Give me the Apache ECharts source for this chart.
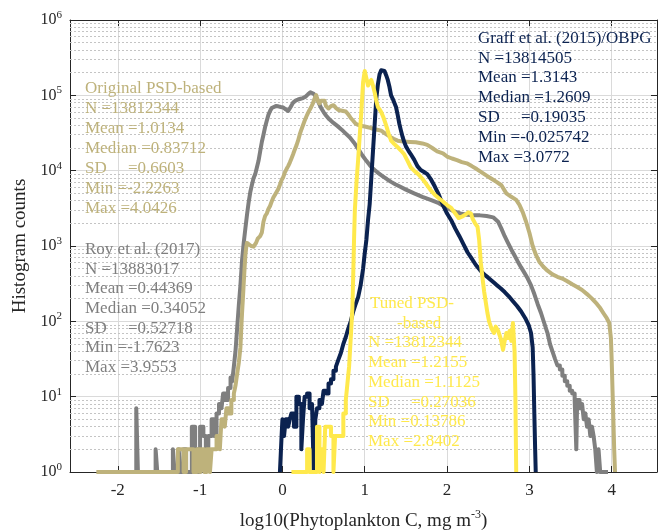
<!DOCTYPE html>
<html><head><meta charset="utf-8">
<script src="https://cdn.jsdelivr.net/npm/echarts@6/dist/echarts.min.js"></script>
<style>html,body{margin:0;padding:0;background:#fff}#c{width:666px;height:532px}</style>
</head><body><div id="c"></div>
<script>
// ---- Data (bin left edges in log10 C, histogram counts) ----
var royX = [-1.80,-1.775,-1.755,-1.54,-1.52,-1.33,-1.31,-1.26,-1.24,-1.20,-1.17,-1.10,-1.06,-1.03,-1.00,-0.96,-0.93,-0.90,-0.86,-0.83,-0.80,-0.77,-0.74,-0.72,-0.69,-0.66,-0.63,-0.61,-0.59,-0.57,-0.55,-0.53,-0.51,-0.49,-0.47,-0.45,-0.43,-0.41,-0.39,-0.37,-0.35,-0.33,-0.31,-0.29,-0.27,-0.25,-0.23,-0.21,-0.19,-0.17,-0.15,-0.13,-0.11,-0.08,-0.05,-0.02,0.01,0.04,0.07,0.10,0.13,0.16,0.19,0.22,0.25,0.28,0.31,0.34,0.36,0.38,0.40,0.42,0.44,0.47,0.50,0.53,0.57,0.62,0.67,0.72,0.77,0.82,0.87,0.92,0.97,1.02,1.07,1.12,1.17,1.22,1.27,1.32,1.37,1.42,1.50,1.60,1.70,1.80,1.90,2.00,2.08,2.16,2.24,2.32,2.40,2.48,2.56,2.62,2.66,2.70,2.74,2.78,2.82,2.86,2.90,2.94,2.98,3.02,3.06,3.10,3.14,3.18,3.22,3.25,3.28,3.31,3.34,3.37,3.40,3.43,3.46,3.49,3.52,3.55,3.57,3.58,3.61,3.64,3.66,3.68,3.70,3.72,3.74,3.76,3.78,3.80,3.82,3.84,3.86,3.90,3.955];
var royY = [1,7,1,2,1,2,1,2,1,2,1,4,2,1,4,3,2,3,5,3,6,8,7,11,9,13,18,16,25,40,80,160,300,650,1100,1700,2600,3800,5200,6500,8000,9000,11000,13500,18000,24000,30000,38000,46000,55000,62000,68000,71000,72000,71500,70000,69000,65000,62000,70000,80000,85000,88000,90000,92000,96000,103000,110000,108000,105000,100000,90000,80000,68000,60000,54000,48000,43000,39000,35000,31000,27500,23500,19500,16000,13500,11500,10200,9200,8400,7700,7100,6600,6200,5600,5000,4500,4100,3700,3200,2900,2700,2600,2550,2550,2500,2400,2100,1700,1350,1100,900,750,620,520,440,370,300,230,170,130,95,70,50,40,32,26,23,19,16,14,12,11,9,2,9,7,8,5,6,4,5,3,4,3,2,1,2,1,1,1];

var origX = [-2.26,-1.27,-1.20,-1.17,-1.08,-1.04,-1.00,-0.98,-0.95,-0.92,-0.88,-0.86,-0.80,-0.76,-0.74,-0.70,-0.68,-0.65,-0.62,-0.59,-0.57,-0.55,-0.53,-0.51,-0.50,-0.49,-0.48,-0.47,-0.46,-0.45,-0.44,-0.43,-0.41,-0.38,-0.35,-0.32,-0.30,-0.27,-0.25,-0.23,-0.21,-0.19,-0.17,-0.15,-0.13,-0.11,-0.09,-0.07,-0.05,-0.03,-0.01,0.01,0.03,0.05,0.07,0.09,0.11,0.13,0.15,0.17,0.19,0.21,0.23,0.25,0.27,0.29,0.31,0.33,0.35,0.37,0.39,0.41,0.43,0.45,0.47,0.49,0.51,0.53,0.56,0.59,0.62,0.65,0.68,0.71,0.74,0.77,0.80,0.83,0.86,0.89,0.92,0.95,1.00,1.05,1.10,1.15,1.20,1.25,1.30,1.35,1.40,1.47,1.55,1.62,1.70,1.76,1.82,1.88,1.95,2.00,2.06,2.12,2.18,2.24,2.30,2.36,2.42,2.48,2.54,2.60,2.66,2.72,2.78,2.84,2.88,2.92,2.96,3.00,3.04,3.08,3.12,3.17,3.22,3.28,3.34,3.40,3.46,3.52,3.58,3.64,3.70,3.76,3.82,3.86,3.90,3.94,3.97,3.99,4.00,4.01,4.02,4.03,4.04,4.045];
var origY = [1,2,1,2,1,2,1,2,1,2,1,2,3,2,5,4,7,6,9,11,14,20,28,45,80,130,200,320,500,750,950,1100,1050,1000,980,1100,1250,1350,1500,2100,2500,2700,3100,3400,3900,4400,4800,5100,5700,6500,7500,8200,9500,10500,11500,12800,14500,16500,19000,21500,25000,30000,35000,40000,46000,52000,58000,64000,70000,78000,90000,101000,85000,78000,85000,90000,85000,72000,67000,72000,74000,68000,64000,63000,62000,61000,56000,50000,46000,42000,40500,39500,38500,37500,36000,35000,34000,31000,28500,26500,25000,24300,24000,23800,23000,22000,20000,18000,17000,15400,14500,13800,13000,12500,11500,10500,9500,8600,7800,7100,6400,5000,4500,4100,3500,2800,2100,1500,1000,760,620,530,470,420,390,370,340,310,285,260,230,200,170,150,128,110,95,60,30,12,5,2,1,1];

var graffX = [-0.03,-0.01,0.0,0.02,0.04,0.07,0.09,0.11,0.14,0.17,0.20,0.23,0.25,0.27,0.30,0.33,0.36,0.38,0.40,0.42,0.45,0.48,0.50,0.53,0.56,0.59,0.62,0.65,0.68,0.71,0.74,0.77,0.80,0.83,0.86,0.89,0.92,0.95,0.98,1.00,1.02,1.04,1.06,1.08,1.10,1.12,1.14,1.16,1.18,1.20,1.22,1.24,1.26,1.28,1.30,1.32,1.34,1.36,1.38,1.40,1.42,1.44,1.46,1.48,1.50,1.53,1.56,1.60,1.64,1.68,1.72,1.76,1.80,1.85,1.90,1.95,2.00,2.05,2.10,2.15,2.20,2.25,2.30,2.35,2.40,2.45,2.50,2.55,2.60,2.65,2.70,2.75,2.80,2.85,2.90,2.95,2.99,3.02,3.04,3.05,3.06,3.07,3.077];
var graffY = [1,3,5,3,5,4,5,6,4,10,8,2,5,10,11,7,8,1,5,7,9,8,12,11,15,17,22,25,31,38,50,62,80,100,135,170,210,300,500,800,1200,2200,3600,8000,18000,40000,90000,140000,190000,215000,222000,210000,185000,160000,130000,100000,90000,85000,70000,55000,42000,34000,28000,24000,21000,18500,16500,14000,11500,10200,9600,9000,7800,6200,4800,3500,2700,2200,1700,1350,1050,820,680,560,480,420,380,340,305,275,245,215,185,160,135,110,90,70,45,20,6,2,1];

var tunedX = [0.11,0.20,0.30,0.33,0.36,0.42,0.45,0.47,0.50,0.52,0.56,0.59,0.62,0.64,0.70,0.74,0.77,0.79,0.81,0.83,0.85,0.86,0.87,0.88,0.90,0.92,0.94,0.96,0.98,1.00,1.02,1.04,1.06,1.08,1.10,1.12,1.14,1.16,1.18,1.20,1.23,1.26,1.29,1.32,1.36,1.40,1.44,1.48,1.52,1.56,1.60,1.65,1.70,1.75,1.80,1.85,1.90,1.95,2.00,2.05,2.10,2.14,2.18,2.22,2.26,2.29,2.31,2.34,2.37,2.39,2.41,2.43,2.45,2.47,2.49,2.51,2.54,2.57,2.59,2.62,2.65,2.68,2.70,2.72,2.74,2.76,2.78,2.80,2.82,2.83,2.835,2.84];
var tunedY = [1,1,2,1,1,4,1,2,1,4,4,3,1,3,3,6,9,15,25,60,150,400,1200,3000,7000,14000,30000,63000,150000,210000,218000,135000,150000,160000,135000,110000,85000,70000,65000,60000,50000,40000,31000,25000,22500,20500,18500,16500,13500,11000,10000,9000,7800,6600,5500,4800,4300,3900,3500,3200,2700,2350,2450,2600,2800,2700,2300,2000,1800,1200,600,380,250,180,130,100,80,70,85,75,60,42,55,70,60,75,55,95,40,10,3,1];

var xTicks = [-2,-1,0,1,2,3,4];

var colRoy = '#7f7f7f', colOrig = '#beb27b', colGraff = '#0b2250', colTuned = '#ffe94c';
var FONT = '"Liberation Serif", "DejaVu Serif", serif';

// Histogram drawing: low-count bins drawn as stairs (bars), the dense part as a continuous polyline
function histPoints(xs, ys, thr){
  var out = [];
  for (var i = 0; i < xs.length; i++){
    out.push([xs[i], ys[i]]);
    if (i + 1 < xs.length && ys[i] < thr && ys[i+1] < thr) out.push([xs[i+1], ys[i]]);
  }
  return out;
}

var minorLines = [];
for (var d = 0; d < 6; d++) for (var k = 2; k <= 9; k++) minorLines.push({yAxis: k * Math.pow(10, d)});

var chart = echarts.init(document.getElementById('c'), null, {renderer:'canvas'});
function lineSeries(name, xs, ys, col, zz){
  return {name:name, type:'line', z:10+zz, data: histPoints(xs, ys, 30), showSymbol:false, symbol:'none',
    lineStyle:{color:col, width:4, join:'round', cap:'butt'}, itemStyle:{color:col}, clip:true, animation:false};
}
var supFmt = function(v){ var e = Math.round(Math.log10(v)); return '{b|10}{s|' + e + '}'; };

chart.setOption({
  animation:false,
  grid:{left:70, right:9, top:20, bottom:60, containLabel:false, outerBoundsMode:'none'},
  xAxis:[{
    type:'value', min:-2.58, max:4.55, splitNumber:7,
    name:'{a|log10(Phytoplankton C, mg m}{s|-3}{a|)}', nameLocation:'middle', nameGap:37,
    nameTextStyle:{rich:{a:{fontFamily:FONT, fontSize:19, color:'#262626'}, s:{fontFamily:FONT, fontSize:12, color:'#262626', padding:[0,0,12,0]}}},
    axisLine:{show:true, onZero:false, lineStyle:{color:'#262626', width:1}},
    axisTick:{show:true, inside:true, length:6, lineStyle:{color:'#262626'}},
    axisLabel:{margin:10, fontFamily:FONT, fontSize:17, color:'#262626',
      formatter:function(v){ return xTicks.indexOf(Math.round(v*1000)/1000) >= 0 ? String(v) : ''; }},
    splitLine:{show:true, lineStyle:{color:'#dadada', width:1}}
  },{
    type:'value', min:-2.58, max:4.55, splitNumber:7, position:'top',
    axisLine:{show:true, onZero:false, lineStyle:{color:'#262626', width:1}},
    axisTick:{show:true, inside:true, length:6, lineStyle:{color:'#262626'}},
    axisLabel:{show:false}, splitLine:{show:false}
  }],
  yAxis:[{
    type:'log', logBase:10, min:1, max:1e6, splitNumber:6,
    name:'Histogram counts', nameLocation:'middle', nameGap:32,
    nameTextStyle:{fontFamily:FONT, fontSize:19, color:'#262626'},
    axisLine:{show:true, onZero:false, lineStyle:{color:'#262626', width:1}},
    axisTick:{show:true, inside:true, length:6, lineStyle:{color:'#262626'}},
    axisLabel:{margin:8, formatter:supFmt, rich:{b:{fontFamily:FONT, fontSize:16, color:'#262626'}, s:{fontFamily:FONT, fontSize:11, color:'#262626', padding:[0,0,10,0]}}},
    splitLine:{show:true, lineStyle:{color:'#dadada', width:1}}
  },{
    type:'log', logBase:10, min:1, max:1e6, splitNumber:6, position:'right',
    axisLine:{show:true, onZero:false, lineStyle:{color:'#262626', width:1}},
    axisTick:{show:true, inside:true, length:6, lineStyle:{color:'#262626'}},
    axisLabel:{show:false}, splitLine:{show:false}
  }],
  series:[
    {type:'line', data:[], silent:true, z:1, markLine:{silent:true, z:1, symbol:['none','none'], label:{show:false},
      lineStyle:{color:'#c4c4c4', type:[2,2], width:1}, data:minorLines, animation:false}},
    lineSeries('Roy et al. (2017)', royX, royY, colRoy, 1),
    lineSeries('Original PSD-based', origX, origY, colOrig, 2),
    lineSeries('Graff et al. (2015)/OBPG', graffX, graffY, colGraff, 3),
    lineSeries('Tuned PSD-based', tunedX, tunedY, colTuned, 4)
  ],
  graphic:[
    {type:'text', left:85, top:79, z:100, style:{text:'Original PSD-based\nN =13812344\nMean =1.0134\nMedian =0.83712\nSD     =0.6603\nMin =-2.2263\nMax =4.0426', font:'17px '+FONT, fill:colOrig, lineHeight:20}},
    {type:'text', left:85, top:240, z:100, style:{text:'Roy et al. (2017)\nN =13883017\nMean =0.44369\nMedian =0.34052\nSD     =0.52718\nMin =-1.7623\nMax =3.9553', font:'17px '+FONT, fill:colRoy, lineHeight:19.6}},
    {type:'text', left:478, top:28.5, z:100, style:{text:'Graff et al. (2015)/OBPG\nN =13814505\nMean =1.3143\nMedian =1.2609\nSD     =0.19035\nMin =-0.025742\nMax =3.0772', font:'17px '+FONT, fill:colGraff, lineHeight:19.8}},
    {type:'text', left:370, top:293.5, z:100, style:{text:'Tuned PSD-', font:'17px '+FONT, fill:colTuned, lineHeight:19.8}},
    {type:'text', left:397, top:313.3, z:100, style:{text:'-based', font:'17px '+FONT, fill:colTuned, lineHeight:19.8}},
    {type:'text', left:368, top:332.8, z:100, style:{text:'N =13812344\nMean =1.2155\nMedian =1.1125\nSD     =0.27036\nMin =0.13786\nMax =2.8402', font:'17px '+FONT, fill:colTuned, lineHeight:19.8}}
  ]
});
</script></body></html>
